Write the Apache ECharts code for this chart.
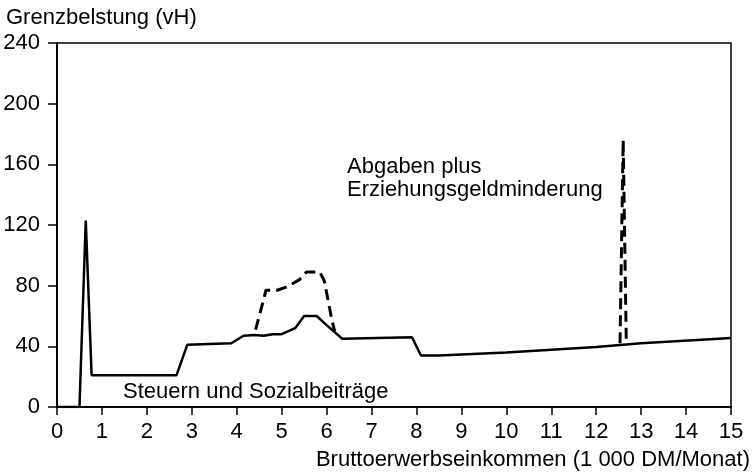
<!DOCTYPE html>
<html>
<head>
<meta charset="utf-8">
<script src="https://cdn.jsdelivr.net/npm/echarts@6/dist/echarts.min.js"></script>
<style>
  html, body { margin: 0; padding: 0; background: #fff; }
  #chart { width: 753px; height: 474px; }
</style>
</head>
<body>
<div id="chart"></div>
<script>
// Steuern und Sozialbeiträge (solid)
const steuernData = [
  [0, 0], [0.5, 0], [0.64, 123], [0.77, 21], [2.66, 21], [2.9, 41], [3.88, 42],
  [4.15, 47], [4.4, 47.5], [4.6, 47], [4.8, 48], [5.0, 48], [5.3, 52], [5.5, 60],
  [5.78, 60], [6.0, 54], [6.35, 45], [7.9, 46], [8.1, 34], [8.5, 34], [10, 36],
  [12, 39.5], [13, 42], [15, 45.5]
];
// Abgaben plus Erziehungsgeldminderung (dashed, only where it differs)
const abgabenBump = [
  [4.42, 51], [4.6, 71], [4.65, 77], [4.9, 77], [5.1, 79], [5.4, 84], [5.55, 89],
  [5.85, 89], [5.95, 83], [6.12, 57], [6.18, 50]
];
const abgabenSpike = [[12.53, 42], [12.6, 176], [12.67, 42]];

const xTicks = [0, 15, 1];   // min, max, interval
const yTicks = [0, 240, 40];

const font = 'Liberation Sans, Arial, sans-serif';
const chart = echarts.init(document.getElementById('chart'));

const dashed = {
  type: 'line',
  symbol: 'none',
  animation: false,
  lineStyle: { color: '#000', width: 3, type: [11, 6] }
};

chart.setOption({
  backgroundColor: '#fff',
  animation: false,
  grid: {
    left: 57, right: 22, top: 43, bottom: 67,
    show: true, borderColor: '#000', borderWidth: 1.5
  },
  xAxis: {
    type: 'value',
    min: xTicks[0], max: xTicks[1], interval: xTicks[2],
    axisLine: { lineStyle: { color: '#000', width: 2 } },
    axisTick: { length: 8, lineStyle: { color: '#000', width: 1.5 } },
    axisLabel: { color: '#000', fontSize: 22, fontFamily: font, margin: 14 },
    splitLine: { show: false }
  },
  yAxis: {
    type: 'value',
    min: yTicks[0], max: yTicks[1], interval: yTicks[2],
    axisLine: { show: true, lineStyle: { color: '#000', width: 2 } },
    axisTick: { show: true, length: 9, lineStyle: { color: '#000', width: 1.5 } },
    axisLabel: { color: '#000', fontSize: 22, fontFamily: font, margin: 17 },
    splitLine: { show: false }
  },
  series: [
    {
      name: 'Steuern und Sozialbeiträge',
      type: 'line',
      symbol: 'none',
      data: steuernData,
      lineStyle: { color: '#000', width: 2.5 }
    },
    Object.assign({ name: 'Abgaben plus Erziehungsgeldminderung', data: abgabenBump }, dashed),
    Object.assign({ name: 'Abgaben plus Erziehungsgeldminderung', data: abgabenSpike }, dashed)
  ],
  graphic: [
    { type: 'text', left: 6, top: 7, style: { text: 'Grenzbelstung (vH)', fill: '#000', font: '22px ' + font } },
    { type: 'text', left: 347, top: 156, style: { text: 'Abgaben plus', fill: '#000', font: '22px ' + font } },
    { type: 'text', left: 347, top: 179, style: { text: 'Erziehungsgeldminderung', fill: '#000', font: '22px ' + font } },
    { type: 'text', left: 123, top: 381, style: { text: 'Steuern und Sozialbeiträge', fill: '#000', font: '22px ' + font } },
    { type: 'text', right: 3, top: 449, style: { text: 'Bruttoerwerbseinkommen (1 000 DM/Monat)', fill: '#000', font: '22px ' + font } }
  ]
});
</script>
</body>
</html>
